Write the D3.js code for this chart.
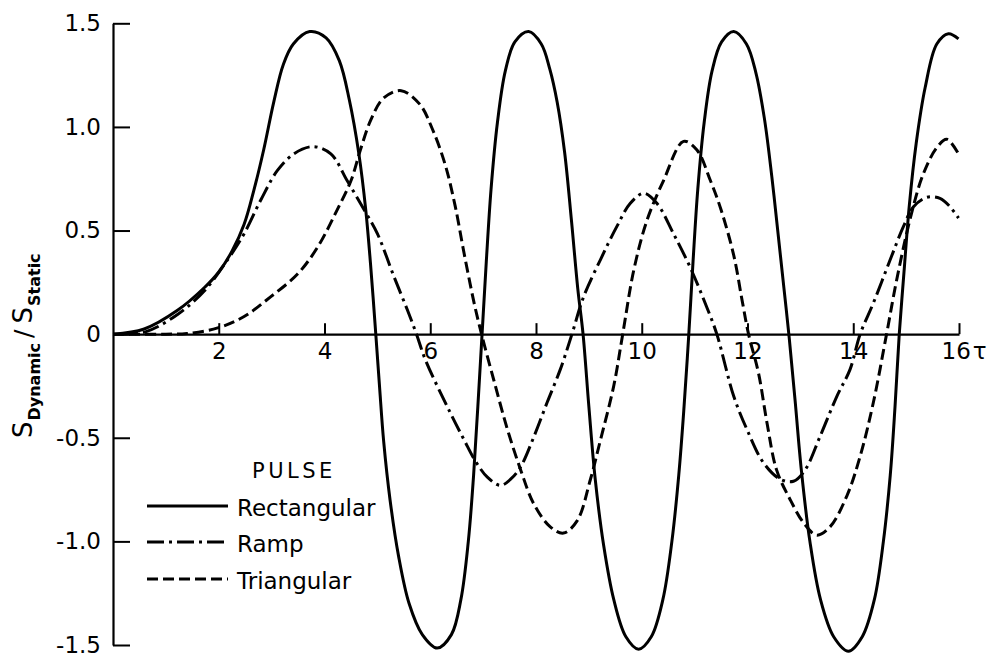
<!DOCTYPE html>
<html>
<head>
<meta charset="utf-8">
<script src="https://cdn.jsdelivr.net/npm/d3@7"></script>
<style>
  html, body { margin: 0; padding: 0; background: #fff; }
  svg { display: block; font-family: "DejaVu Sans", sans-serif; }
</style>
</head>
<body>
<svg id="chart" width="993" height="658"></svg>
<script>
// Dynamic load factor S_dynamic / S_static versus time τ for three pulse shapes.
// Each series is a list of [τ, value] points.
const rectangular = [
  [0,0],[0.59,0.025],[1.22,0.115],[1.73,0.225],[2.0,0.30],[2.25,0.40],[2.48,0.53],[2.66,0.69],
  [2.85,0.89],[3.04,1.12],[3.22,1.30],[3.41,1.40],[3.72,1.46],[4.03,1.43],[4.28,1.32],[4.47,1.13],
  [4.65,0.87],[4.78,0.60],[4.87,0.34],[4.97,0],
  [5.04,-0.25],[5.12,-0.52],[5.24,-0.80],[5.40,-1.07],[5.60,-1.30],[5.85,-1.45],[6.13,-1.515],
  [6.40,-1.45],[6.58,-1.28],[6.72,-1.0],[6.82,-0.68],[6.90,-0.35],[6.98,0],
  [7.06,0.35],[7.15,0.70],[7.27,1.02],[7.42,1.27],[7.60,1.41],[7.86,1.46],[8.10,1.40],[8.26,1.28],
  [8.40,1.12],[8.54,0.88],[8.67,0.55],[8.79,0.22],[8.89,0],
  [9.0,-0.35],[9.12,-0.70],[9.28,-1.02],[9.47,-1.28],[9.70,-1.46],[9.94,-1.52],[10.18,-1.46],
  [10.40,-1.28],[10.57,-1.00],[10.70,-0.68],[10.80,-0.35],[10.89,0],
  [10.97,0.35],[11.06,0.70],[11.18,1.02],[11.33,1.27],[11.51,1.41],[11.74,1.46],[11.98,1.40],
  [12.16,1.26],[12.32,1.04],[12.46,0.76],[12.58,0.48],[12.69,0.22],[12.79,-0.02],
  [12.90,-0.32],[13.02,-0.66],[13.18,-1.00],[13.38,-1.28],[13.63,-1.46],[13.91,-1.53],[14.17,-1.46],
  [14.40,-1.28],[14.57,-1.00],[14.70,-0.68],[14.79,-0.35],[14.87,0],
  [14.96,0.30],[15.06,0.62],[15.19,0.92],[15.36,1.19],[15.58,1.40],[15.80,1.45],[15.99,1.425]
];

const ramp = [
  [0,0],[0.6,0.01],[1.22,0.095],[1.73,0.21],[2.17,0.36],[2.48,0.485],[2.80,0.65],[3.11,0.79],
  [3.42,0.87],[3.78,0.905],[4.12,0.87],[4.43,0.74],[4.75,0.60],[5.0,0.485],[5.31,0.28],[5.57,0.115],[5.74,0],
  [5.91,-0.125],[6.38,-0.38],[6.64,-0.51],[6.86,-0.615],[7.08,-0.69],[7.33,-0.73],[7.52,-0.70],
  [7.71,-0.64],[7.96,-0.495],[8.21,-0.33],[8.46,-0.17],[8.68,0],
  [8.90,0.18],[9.22,0.36],[9.53,0.52],[9.78,0.63],[10.04,0.68],[10.29,0.63],[10.60,0.485],
  [10.92,0.32],[11.23,0.13],[11.42,0],
  [11.74,-0.30],[11.99,-0.46],[12.30,-0.62],[12.62,-0.70],[12.87,-0.71],[13.09,-0.655],
  [13.37,-0.495],[13.69,-0.30],[13.94,-0.17],[14.13,0],
  [14.38,0.15],[14.70,0.36],[14.95,0.52],[15.14,0.615],[15.39,0.66],[15.64,0.655],[15.83,0.615],[15.99,0.56]
];

const triangular = [
  [0,0],[1.0,0],[1.4,0.003],[1.98,0.03],[2.48,0.085],[2.98,0.18],[3.49,0.29],[3.87,0.42],
  [4.24,0.60],[4.50,0.74],[4.68,0.89],[4.87,1.03],[5.12,1.14],[5.45,1.175],[5.80,1.11],
  [6.04,0.99],[6.28,0.82],[6.47,0.62],[6.64,0.39],[6.83,0.15],[6.97,0],
  [7.20,-0.22],[7.46,-0.46],[7.71,-0.655],[7.96,-0.82],[8.27,-0.93],[8.52,-0.96],[8.78,-0.90],
  [9.03,-0.70],[9.22,-0.51],[9.47,-0.25],[9.64,0],
  [9.85,0.31],[10.10,0.55],[10.41,0.74],[10.79,0.93],[11.04,0.89],[11.30,0.74],[11.50,0.60],
  [11.74,0.38],[11.90,0.16],[12.02,0],
  [12.21,-0.19],[12.37,-0.43],[12.55,-0.655],[12.81,-0.80],[13.06,-0.91],[13.31,-0.97],
  [13.56,-0.93],[13.88,-0.78],[14.13,-0.59],[14.38,-0.33],[14.63,0],
  [14.82,0.26],[15.07,0.55],[15.32,0.77],[15.58,0.90],[15.77,0.94],[15.99,0.87]
];

const xTicks = [2, 4, 6, 8, 10, 12, 14, 16];
const yTicks = [-1.5, -1.0, -0.5, 0, 0.5, 1.0, 1.5];
const legendTitle = "PULSE";
const seriesNames = ["Rectangular", "Ramp", "Triangular"];

const svg = d3.select("#chart");

const x = d3.scaleLinear().domain([0, 16]).range([113, 959]);
const y = d3.scaleLinear().domain([-1.5, 1.5]).range([645, 23.3]);

// Y axis: ticks point into the plot, labels on the left
const yAxis = d3.axisLeft(y)
  .tickValues(yTicks)
  .tickSizeInner(-17)
  .tickSizeOuter(0)
  .tickPadding(12)
  .tickFormat(d => d === 0 ? "0" : d3.format(".1f")(d).replace("\u2212", "-"));

const gy = svg.append("g").attr("transform", `translate(${x(0)},0)`).call(yAxis);
gy.select(".domain").attr("stroke", "#000").attr("stroke-width", 2.2);
gy.selectAll(".tick line").attr("stroke", "#000").attr("stroke-width", 2);
gy.selectAll(".tick").filter(d => d === 0).select("line").remove();
gy.selectAll(".tick text")
  .attr("font-family", "DejaVu Sans, sans-serif")
  .attr("font-size", 23)
  .attr("fill", "#000");

// X axis along the zero line, ticks pointing up
const xAxis = d3.axisBottom(x)
  .tickValues(xTicks)
  .tickSizeInner(-11)
  .tickSizeOuter(0)
  .tickPadding(9)
  .tickFormat(d => d);

const gx = svg.append("g").attr("transform", `translate(0,${y(0)})`).call(xAxis);
gx.select(".domain").attr("stroke", "#000").attr("stroke-width", 2.2);
gx.selectAll(".tick line").attr("stroke", "#000").attr("stroke-width", 2);
gx.selectAll(".tick text")
  .attr("font-family", "DejaVu Sans, sans-serif")
  .attr("font-size", 23)
  .attr("fill", "#000");
// last tick carries the τ symbol
gx.selectAll(".tick").filter(d => d === 16).select("text")
  .attr("text-anchor", "start")
  .attr("x", -18)
  .append("tspan").attr("dx", 2).text("τ");

// Curves
const line = d3.line()
  .x(d => x(d[0]))
  .y(d => y(d[1]))
  .curve(d3.curveCatmullRom.alpha(0.5));

const styles = [
  { data: rectangular, dash: null },
  { data: ramp, dash: "17,5,3,5" },
  { data: triangular, dash: "11,5" }
];

svg.append("g").selectAll("path")
  .data(styles)
  .join("path")
  .attr("d", s => line(s.data))
  .attr("fill", "none")
  .attr("stroke", "#000")
  .attr("stroke-width", 3)
  .attr("stroke-linejoin", "round")
  .attr("stroke-dasharray", s => s.dash);

// Y axis title: S_Dynamic / S_Static
const yTitle = svg.append("text")
  .attr("transform", "translate(32,438) rotate(-90)")
  .attr("text-anchor", "start")
  .attr("fill", "#000");
yTitle.append("tspan").attr("font-size", 26).text("S");
yTitle.append("tspan").attr("font-size", 16).attr("font-weight", "bold").attr("dy", 8).attr("dx", 1).text("Dynamic");
yTitle.append("tspan").attr("font-size", 25).attr("dy", -8).attr("dx", 5).text("/");
yTitle.append("tspan").attr("font-size", 26).attr("dx", 6).text("S");
yTitle.append("tspan").attr("font-size", 16).attr("font-weight", "bold").attr("dy", 8).attr("dx", 1).text("Static");

// Legend
const legend = svg.append("g");
legend.append("text")
  .attr("x", 252).attr("y", 478)
  .attr("font-size", 21)
  .attr("letter-spacing", 3.5)
  .attr("fill", "#000")
  .text(legendTitle);

const legendRows = [506, 542, 579];
styles.forEach((s, i) => {
  legend.append("line")
    .attr("x1", 147).attr("x2", 228)
    .attr("y1", legendRows[i]).attr("y2", legendRows[i])
    .attr("stroke", "#000")
    .attr("stroke-width", 3)
    .attr("stroke-dasharray", s.dash);
  legend.append("text")
    .attr("x", 237).attr("y", legendRows[i] + 10)
    .attr("font-size", 23)
    .attr("fill", "#000")
    .text(seriesNames[i]);
});
</script>
</body>
</html>
